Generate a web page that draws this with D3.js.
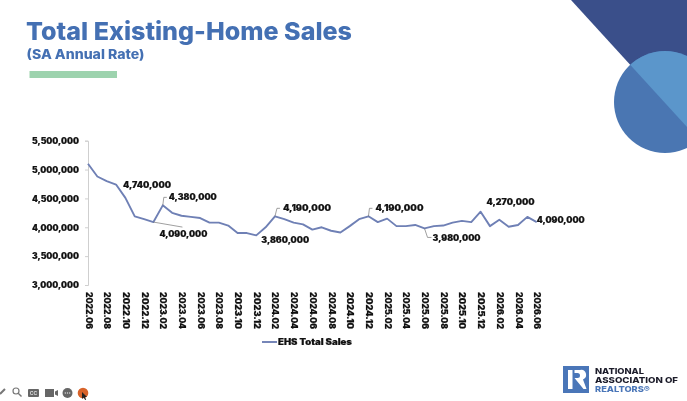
<!DOCTYPE html>
<html><head><meta charset="utf-8">
<script src="https://cdn.jsdelivr.net/npm/d3@7"></script>
<style>
html,body{margin:0;padding:0;background:#fff;overflow:hidden}
svg{display:block;filter:blur(0.45px)}
text{font-family:Inter,"Open Sans",sans-serif}
</style></head><body><div id="c"></div>
<script>
const months = ["2022.06","2022.07","2022.08","2022.09","2022.10","2022.11","2022.12","2023.01","2023.02","2023.03","2023.04","2023.05","2023.06","2023.07","2023.08","2023.09","2023.10","2023.11","2023.12","2024.01","2024.02","2024.03","2024.04","2024.05","2024.06","2024.07","2024.08","2024.09","2024.10","2024.11","2024.12","2025.01","2025.02","2025.03","2025.04","2025.05","2025.06","2025.07","2025.08","2025.09","2025.10","2025.11","2025.12","2026.01","2026.02","2026.03","2026.04","2026.05","2026.06"];
const sales = [5100000,4880000,4800000,4740000,4510000,4190000,4140000,4090000,4380000,4250000,4200000,4180000,4160000,4080000,4080000,4030000,3900000,3900000,3860000,4000000,4190000,4140000,4080000,4050000,3960000,4000000,3940000,3910000,4020000,4140000,4190000,4090000,4150000,4020000,4020000,4040000,3980000,4020000,4030000,4080000,4110000,4090000,4270000,4020000,4130000,4010000,4040000,4180000,4090000];
const yTicks = [3000000,3500000,4000000,4500000,5000000,5500000];
const calloutMonths = ["2022.09","2023.01","2023.02","2023.12","2024.02","2024.12","2025.06","2025.12","2026.06"];
const seriesName = "EHS Total Sales";

const W=687,H=401;
const svg=d3.select("#c").append("svg").attr("width",W).attr("height",H);
svg.append("rect").attr("width",W).attr("height",H).attr("fill","#fff");

// corner art
svg.append("path").attr("d","M571,0L687,0L687,127Z").attr("fill","#3a4f8a");
svg.append("circle").attr("cx",665).attr("cy",102).attr("r",51).attr("fill","#4a76b2");
svg.append("clipPath").attr("id","cp").append("path").attr("d","M571,0L687,0L687,127Z");
svg.append("circle").attr("cx",665).attr("cy",102).attr("r",51).attr("fill","#5b96cb").attr("clip-path","url(#cp)");

// title
svg.append("text").attr("x",26).attr("y",40).attr("font-size",24.5).attr("font-weight",800).attr("fill","#4470b3").attr("textLength",326).attr("lengthAdjust","spacingAndGlyphs").text("Total Existing-Home Sales");
svg.append("text").attr("x",26.5).attr("y",59).attr("font-size",13).attr("font-weight",800).attr("fill","#4470b3").attr("textLength",118).attr("lengthAdjust","spacingAndGlyphs").text("(SA Annual Rate)");
svg.append("rect").attr("x",29.5).attr("y",71).attr("width",87.5).attr("height",7).attr("fill","#9dd3ae");

// scales
const x=d3.scalePoint().domain(months).range([88,536.7]);
const y=d3.scaleLinear().domain([3000000,5500000]).range([285,140.7]);
const fmt=d3.format(",");
const TXT="#111";
const heavy=s=>s.attr("font-size",8.5).attr("font-weight",900).attr("fill",TXT).attr("stroke",TXT).attr("stroke-width",0.2).attr("font-family","Inter").attr("lengthAdjust","spacingAndGlyphs");

const ya=svg.append("g").attr("transform","translate(88,0)").call(d3.axisLeft(y).tickValues(yTicks).tickFormat(fmt).tickSize(3).tickPadding(6));
ya.selectAll("path,line").attr("stroke","#cfcfcf");
heavy(ya.selectAll("text")).attr("textLength",47);

const xa=svg.append("g").attr("transform","translate(0,285)").call(d3.axisBottom(x).tickValues(months.filter((m,i)=>i%2===0)).tickSize(0));
xa.select("path").remove();
heavy(xa.selectAll("text")).attr("textLength",37)
  .attr("text-anchor","start").attr("transform","translate(0,7) rotate(90)").attr("x",0).attr("dy","0").attr("y",0).attr("dominant-baseline","central");

// line
const line=d3.line().x((d,i)=>x(months[i])).y(d=>y(d));
svg.append("path").datum(sales).attr("d",line).attr("fill","none").attr("stroke","#6f80b5").attr("stroke-width",1.9).attr("stroke-linejoin","round");

// callouts: label offset from its point, and leader route (relative to the point)
const calloutLayout={
 "2022.09":{dx:7,dy:0,lead:null},
 "2023.01":{dx:6,dy:12,lead:[[0,0],[29,5]]},
 "2023.02":{dx:6,dy:-8,lead:[[0,0],[1,-8],[4,-8]]},
 "2023.12":{dx:5,dy:5,lead:null},
 "2024.02":{dx:8,dy:-8,lead:[[0,0],[2,-8],[5,-8]]},
 "2024.12":{dx:7,dy:-8,lead:[[0,0],[1,-8],[4,-8]]},
 "2025.06":{dx:8,dy:10,lead:[[0,0],[3,9],[7,9]]},
 "2025.12":{dx:6,dy:-10,lead:null},
 "2026.06":{dx:0,dy:-2,lead:null}
};
const cg=svg.append("g");
calloutMonths.forEach(m=>{
  const v=sales[months.indexOf(m)],px=x(m),py=y(v),l=calloutLayout[m];
  if(l.lead) cg.append("path").attr("d",d3.line()(l.lead.map(p=>[px+p[0],py+p[1]]))).attr("fill","none").attr("stroke","#777").attr("stroke-width",0.7);
  heavy(cg.append("text").attr("x",px+l.dx).attr("y",py+l.dy).attr("dominant-baseline","central")).attr("textLength",48).text(fmt(v));
});

// legend
svg.append("line").attr("x1",262).attr("x2",277).attr("y1",342).attr("y2",342).attr("stroke","#6f80b5").attr("stroke-width",1.9);
heavy(svg.append("text").attr("x",278).attr("y",342).attr("dominant-baseline","central")).attr("textLength",74).text(seriesName);

// logo
svg.append("rect").attr("x",563).attr("y",366).attr("width",26).attr("height",27).attr("fill","#4a76b8");
svg.append("path").attr("d","M568,370h4.5v19h-4.5ZM574.5,370h5.5a5,5 0 0 1 3,9.5l3.5,9.5l-3,0l-9,-11h3a2.5,2.5 0 0 0 0,-5h-3Z").attr("fill","#fff");
[["NATIONAL",370.5,"#1c1c2a",49],["ASSOCIATION OF",379.5,"#1c1c2a",83],["REALTORS®",388.5,"#4a76b8",55]].forEach(t=>{
  svg.append("text").attr("x",595).attr("y",t[1]).attr("dominant-baseline","central").attr("font-size",8).attr("font-weight",800).attr("fill",t[2]).attr("textLength",t[3]).attr("lengthAdjust","spacingAndGlyphs").text(t[0]);
});

// player toolbar
const tb=svg.append("g");
tb.append("path").attr("d","M0,394L5,389").attr("stroke","#777").attr("stroke-width",2);
tb.append("circle").attr("cx",16).attr("cy",391).attr("r",3).attr("fill","none").attr("stroke","#777").attr("stroke-width",1.2);
tb.append("path").attr("d","M18.2,393.2L21.5,396.5").attr("stroke","#777").attr("stroke-width",1.4);
tb.append("rect").attr("x",28).attr("y",389).attr("width",11).attr("height",8).attr("rx",1).attr("fill","#666");
tb.append("text").attr("x",33.5).attr("y",393.2).attr("text-anchor","middle").attr("dominant-baseline","central").attr("font-size",5).attr("font-weight",700).attr("fill","#ddd").text("CC");
tb.append("rect").attr("x",45).attr("y",389).attr("width",9).attr("height",8).attr("fill","#666");
tb.append("path").attr("d","M55,391.5l3,-1.5v6l-3,-1.5Z").attr("fill","#666");
tb.append("circle").attr("cx",67.5).attr("cy",393).attr("r",5).attr("fill","#666");
[65.3,67.5,69.7].forEach(c=>tb.append("circle").attr("cx",c).attr("cy",393).attr("r",.7).attr("fill","#ddd"));
tb.append("circle").attr("cx",83).attr("cy",393).attr("r",5.3).attr("fill","#d8632a");
tb.append("path").attr("d","M82,392v7l1.6,-1.6l1.6,2.6l1,-.5l-1.4,-2.6h2.2Z").attr("fill","#222");
</script></body></html>
